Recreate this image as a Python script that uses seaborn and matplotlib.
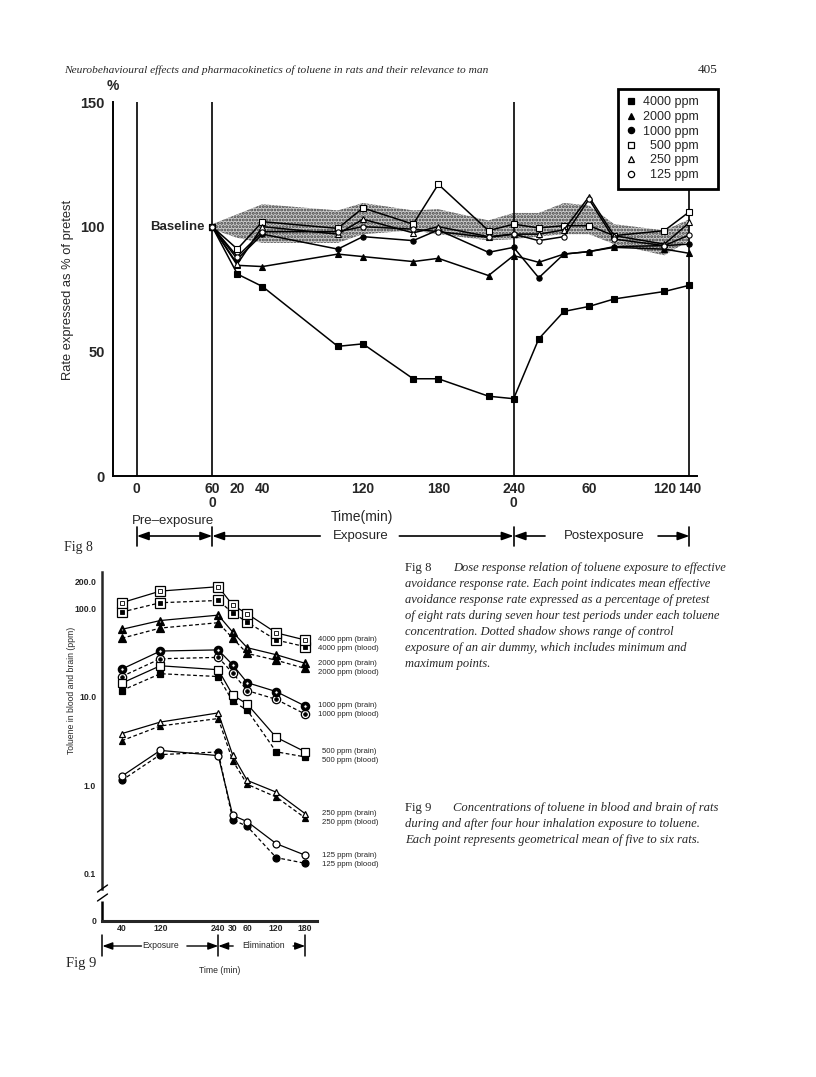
import matplotlib
matplotlib.use("Agg")
import matplotlib.pyplot as plt
import matplotlib.transforms as mtransforms
from matplotlib.lines import Line2D
from matplotlib.ticker import NullFormatter
import seaborn as sns

sns.set_style("white")
plt.rcParams["font.family"] = ["Liberation Sans", "DejaVu Sans"]
plt.rcParams["hatch.linewidth"] = 1.4
plt.rcParams["lines.dashed_pattern"] = [3.0, 2.0]

W, H = 816, 1077
SERIF = ["Liberation Serif", "DejaVu Serif"]

# --- Fig 8 data: avoidance response rate, % of pretest ---
# one running time axis: 0-60 pre-exposure, 60-300 exposure (0-240), 300-440 postexposure (0-140)
fig8_time = [60, 80, 100, 160, 180, 220, 240, 280, 300, 320, 340, 360, 380, 420, 440]
rate_4000 = [100, 81, 76, 52, 53, 39, 39, 32, 31, 55, 66, 68, 71, 74, 76.5]
rate_2000 = [100, 84.5, 84, 89, 88, 86, 87.3, 80.4, 88.4, 85.7, 89, 90, 91.7, 91, 89.3]
rate_1000 = [100, 87, 97, 91, 96, 94.4, 98.7, 89.7, 91.7, 79.5, 89, 90, 92, 92.4, 93]
rate_500 = [100, 91, 102, 99.3, 107.5, 101, 117, 98.4, 101, 99.5, 100.4, 100.4, 96.4, 98.4, 106]
rate_250 = [100, 85, 100, 97, 103, 97.5, 100, 96, 97, 97, 98.7, 112, 96.4, 93, 101.7]
rate_125 = [100, 88, 98, 98, 100, 99, 98, 95.7, 97, 94.4, 96, 111, 95, 92.4, 96.7]
control_max = [101, 105, 109, 106.5, 109.5, 106.5, 107, 102.5, 105.5, 105.5, 109.5, 108.5, 101, 98.5, 103]
control_min = [99, 95.5, 93.5, 93.5, 97, 98.5, 97, 94.5, 95, 96, 97, 97, 93, 88.5, 94.5]
fig8_ticks = [0, 60, 80, 100, 180, 240, 300, 360, 420, 440]
fig8_ticklabels = ["0", "60\n0", "20", "40", "120", "180", "240\n0", "60", "120", "140"]
fig8_labels = ["4000 ppm", "2000 ppm", "1000 ppm", "  500 ppm", "  250 ppm", "  125 ppm"]

# --- Fig 9 data: toluene in blood and brain (ppm) ---
# exposure 0-240, elimination 240 + minutes
fig9_time = [40, 120, 240, 270, 300, 360, 420]
brain_4000 = [116, 157, 176, 109, 87, 53, 44]
blood_4000 = [91, 116, 123, 89, 70, 44, 37]
brain_2000 = [58, 73, 84, 54, 36, 30, 24]
blood_2000 = [46, 60, 69, 46, 31, 26, 21]
brain_1000 = [20.6, 33, 34, 23, 14.5, 11.5, 7.9]
blood_1000 = [17, 27, 28, 18.6, 11.8, 9.4, 6.4]
brain_500 = [14.3, 22.5, 20.3, 10.5, 8.3, 3.5, 2.4]
blood_500 = [11.8, 18.3, 17, 8.9, 7.1, 2.4, 2.1]
brain_250 = [3.85, 5.2, 6.6, 2.2, 1.14, 0.84, 0.48]
blood_250 = [3.2, 4.7, 5.7, 1.9, 1.03, 0.74, 0.43]
brain_125 = [1.27, 2.49, 2.17, 0.46, 0.39, 0.22, 0.163]
blood_125 = [1.14, 2.23, 2.39, 0.41, 0.345, 0.153, 0.132]
fig9_ticks = [40, 120, 240, 270, 300, 360, 420]
fig9_ticklabels = ["40", "120", "240", "30", "60", "120", "180"]
fig9_yticks = [0.0294, 0.1, 1, 10, 100, 200]
fig9_yticklabels = ["0", "0.1", "1.0", "10.0", "100.0", "200.0"]


def fx(px):
    return px / W


def fy(py):
    return 1 - py / H


fig = plt.figure(figsize=(W / 100, H / 100), dpi=100)

# page header
fig.text(fx(64), fy(70), "Neurobehavioural effects and pharmacokinetics of toluene in rats and their relevance to man",
         family=SERIF, style="italic", fontsize=8.2, va="center")
fig.text(fx(718), fy(70), "405", family=SERIF, fontsize=9.5, va="center", ha="right")

# ================= Fig 8 =================
ax8 = fig.add_axes([fx(113), fy(476), fx(697) - fx(113), fy(102) - fy(476)])
ax8.set_xlim(-19, 446)
ax8.set_ylim(0, 150)

ax8.fill_between(fig8_time, control_min, control_max, facecolor="0.8", edgecolor="0.25",
                 hatch=".....", linewidth=0, zorder=1)

series8 = [
    (rate_4000, "s", "black"),
    (rate_2000, "^", "black"),
    (rate_1000, "o", "black"),
    (rate_500, "s", "white"),
    (rate_250, "^", "white"),
    (rate_125, "o", "white"),
]
handles = []
for vals, mk, fc in series8:
    sns.lineplot(x=fig8_time, y=vals, ax=ax8, color="black", lw=1.1, marker=mk, markersize=3.8,
                 markerfacecolor=fc, markeredgecolor="black", markeredgewidth=0.8, zorder=3)
    handles.append(Line2D([], [], ls="none", marker=mk, markersize=4.5, markerfacecolor=fc,
                          markeredgecolor="black", markeredgewidth=0.9))

ax8.vlines([0, 60, 300], 0, 150, colors="black", lw=1.2)
ax8.vlines(440, 0, 118, colors="black", lw=1.2)

for s in ["top", "right"]:
    ax8.spines[s].set_visible(False)
for s in ["left", "bottom"]:
    ax8.spines[s].set_linewidth(1.4)
    ax8.spines[s].set_color("black")

ax8.set_xticks(fig8_ticks, fig8_ticklabels)
ax8.set_yticks([0, 50, 100, 150])
ax8.tick_params(axis="x", direction="in", length=4, width=1, pad=4, labelsize=10)
ax8.tick_params(axis="y", direction="out", length=5, width=1.2, pad=1, labelsize=10.5)
for lab in ax8.get_xticklabels() + ax8.get_yticklabels():
    lab.set_fontweight("bold")
    lab.set_linespacing(1.05)

ax8.set_ylabel("Rate expressed as % of pretest", fontsize=9.3)
ax8.yaxis.set_label_coords(-0.066, 0.497)
ax8.set_xlabel("Time(min)", fontsize=10)
ax8.xaxis.set_label_coords(0.426, -0.091)

ax8.text(54, 100, "Baseline", ha="right", va="center", fontsize=9.5, fontweight="bold")
fig.text(fx(113), fy(86), "%", ha="center", va="center", fontsize=10, fontweight="bold")

leg = fig.legend(handles, fig8_labels, loc="upper left", mode="expand",
                 bbox_to_anchor=(fx(618), fy(182), fx(718) - fx(618), fy(89) - fy(182)),
                 frameon=True, fancybox=False, edgecolor="black", framealpha=1, fontsize=9,
                 handlelength=0.8, handletextpad=0.6, labelspacing=0.2, borderpad=0.6,
                 borderaxespad=0)
leg.get_frame().set_linewidth(2)

tr8 = mtransforms.blended_transform_factory(ax8.transData, fig.transFigure)
arrow_kw = dict(arrowstyle="-|>,head_length=0.7,head_width=0.25", color="black", lw=1.2,
                shrinkA=0, shrinkB=0)
y_arrow = fy(536)
for x in [0, 60, 300, 440]:
    ax8.plot([x, x], [fy(527), fy(546)], transform=tr8, clip_on=False, color="black", lw=1.2)
ax8.annotate("", xy=(60, y_arrow), xytext=(0, y_arrow), xycoords=tr8, textcoords=tr8,
             arrowprops=dict(arrow_kw, arrowstyle="<|-|>,head_length=0.7,head_width=0.25"),
             annotation_clip=False)
for x0, x1 in [(146, 60), (209, 300), (325, 300), (415, 440)]:
    ax8.annotate("", xy=(x1, y_arrow), xytext=(x0, y_arrow), xycoords=tr8, textcoords=tr8,
                 arrowprops=arrow_kw, annotation_clip=False)
ax8.text(29, fy(521), "Pre\u2013exposure", transform=tr8, ha="center", va="center", fontsize=9.5)
ax8.text(178, y_arrow, "Exposure", transform=tr8, ha="center", va="center", fontsize=9.5)
ax8.text(372, y_arrow, "Postexposure", transform=tr8, ha="center", va="center", fontsize=9.5)

fig.text(fx(64), fy(548), "Fig 8", family=SERIF, fontsize=10, va="center")

# Fig 8 caption
fig.text(fx(405), fy(568), "Fig 8", family=SERIF, fontsize=9.2, va="center")
cap8 = [
    "Dose response relation of toluene exposure to effective",
    "avoidance response rate. Each point indicates mean effective",
    "avoidance response rate expressed as a percentage of pretest",
    "of eight rats during seven hour test periods under each toluene",
    "concentration. Dotted shadow shows range of control",
    "exposure of an air dummy, which includes minimum and",
    "maximum points.",
]
for i, line in enumerate(cap8):
    x0 = 453 if i == 0 else 405
    fig.text(fx(x0), fy(568 + 16 * i), line, family=SERIF, style="italic", fontsize=9.0, va="center")

# ================= Fig 9 =================
ax9 = fig.add_axes([fx(102.4), fy(921), fx(316.7) - fx(102.4), fy(572) - fy(921)])
ax9.set_yscale("log")
ax9.set_xlim(0, 444)
ax9.set_ylim(0.0294, 258)

series9 = [
    (brain_4000, blood_4000, "4000 ppm", ("s", 6.5, "white"), ("s", 2.6, "white"), ("s", 6.5, "white"), ("s", 3.4, "black")),
    (brain_2000, blood_2000, "2000 ppm", ("^", 6.0, "black"), ("^", 2.0, "white"), ("^", 6.0, "black"), None),
    (brain_1000, blood_1000, "1000 ppm", ("o", 6.0, "black"), ("o", 2.4, "white"), ("o", 6.0, "white"), ("o", 2.6, "black")),
    (brain_500, blood_500, "500 ppm", ("s", 5.2, "white"), None, ("s", 5.0, "black"), None),
    (brain_250, blood_250, "250 ppm", ("^", 4.2, "white"), None, ("^", 4.2, "black"), None),
    (brain_125, blood_125, "125 ppm", ("o", 5.0, "white"), None, ("o", 5.0, "black"), None),
]
for brain, blood, name, mb, ib, md, idd in series9:
    sns.lineplot(x=fig9_time, y=blood, ax=ax9, color="black", lw=0.9, linestyle="--",
                 marker=md[0], markersize=md[1], markerfacecolor=md[2], markeredgecolor="black",
                 markeredgewidth=0.9, zorder=3)
    sns.lineplot(x=fig9_time, y=brain, ax=ax9, color="black", lw=0.9,
                 marker=mb[0], markersize=mb[1], markerfacecolor=mb[2], markeredgecolor="black",
                 markeredgewidth=0.9, zorder=4)
    for inner, vals in [(ib, brain), (idd, blood)]:
        if inner is not None:
            ax9.plot(fig9_time, vals, ls="none", marker=inner[0], markersize=inner[1],
                     markerfacecolor=inner[2], markeredgecolor="black", markeredgewidth=0.6, zorder=5)
    pad = 13 if len(name) == 8 else 17
    ax9.annotate(f"{name} (brain)", xy=(fig9_time[-1], brain[-1]), xytext=(pad, 0),
                 textcoords="offset pixels", va="center", fontsize=5.6, annotation_clip=False)
    ax9.annotate(f"{name} (blood)", xy=(fig9_time[-1], brain[-1]), xytext=(pad, -9),
                 textcoords="offset pixels", va="center", fontsize=5.6, annotation_clip=False)

for s in ["top", "right"]:
    ax9.spines[s].set_visible(False)
ax9.spines["left"].set_linewidth(1.8)
ax9.spines["bottom"].set_linewidth(2.2)
ax9.spines["left"].set_bounds(0.0677, 258)
ax9.plot([0, 0], [0.0294, 0.0495], color="black", lw=1.8, clip_on=False, solid_capstyle="butt")
for yb in [888, 897]:
    fig.add_artist(Line2D([fx(97.5), fx(107.5)], [fy(yb + 4), fy(yb - 3)], color="black", lw=1.0))

ax9.set_xticks(fig9_ticks, fig9_ticklabels)
ax9.set_yticks(fig9_yticks, fig9_yticklabels)
ax9.set_yticks([30], minor=True)
ax9.yaxis.set_minor_formatter(NullFormatter())
ax9.tick_params(axis="x", direction="in", length=3, width=1, pad=2, labelsize=6.2)
ax9.tick_params(axis="y", which="both", direction="out", length=3, width=1, pad=1.5, labelsize=6.2)
for lab in ax9.get_xticklabels() + ax9.get_yticklabels():
    lab.set_fontweight("bold")

ax9.set_ylabel("Toluene in blood and brain (ppm)", fontsize=6.2)
ax9.yaxis.set_label_coords(-0.123, 0.662)
ax9.set_xlabel("Time (min)", fontsize=6.2)
ax9.xaxis.set_label_coords(0.549, -0.129)

tr9 = mtransforms.blended_transform_factory(ax9.transData, fig.transFigure)
y9 = fy(946)
for x in [0, 240, 420]:
    ax9.plot([x, x], [fy(935), fy(956)], transform=tr9, clip_on=False, color="black", lw=1.1)
arrow9 = dict(arrowstyle="-|>,head_length=0.6,head_width=0.22", color="black", lw=1.0,
              shrinkA=0, shrinkB=0)
for x0, x1 in [(81, 0), (175, 240), (271, 240), (395, 420)]:
    ax9.annotate("", xy=(x1, y9), xytext=(x0, y9), xycoords=tr9, textcoords=tr9,
                 arrowprops=arrow9, annotation_clip=False)
ax9.text(120, y9, "Exposure", transform=tr9, ha="center", va="center", fontsize=6.2)
ax9.text(333, y9, "Elimination", transform=tr9, ha="center", va="center", fontsize=6.2)

fig.text(fx(66), fy(963), "Fig 9", family=SERIF, fontsize=10.5, va="center")

fig.text(fx(405), fy(808), "Fig 9", family=SERIF, fontsize=9.2, va="center")
cap9 = [
    "Concentrations of toluene in blood and brain of rats",
    "during and after four hour inhalation exposure to toluene.",
    "Each point represents geometrical mean of five to six rats.",
]
for i, line in enumerate(cap9):
    x0 = 453 if i == 0 else 405
    fig.text(fx(x0), fy(808 + 16 * i), line, family=SERIF, style="italic", fontsize=9.1, va="center")

fig.savefig("out.png", dpi=100)
